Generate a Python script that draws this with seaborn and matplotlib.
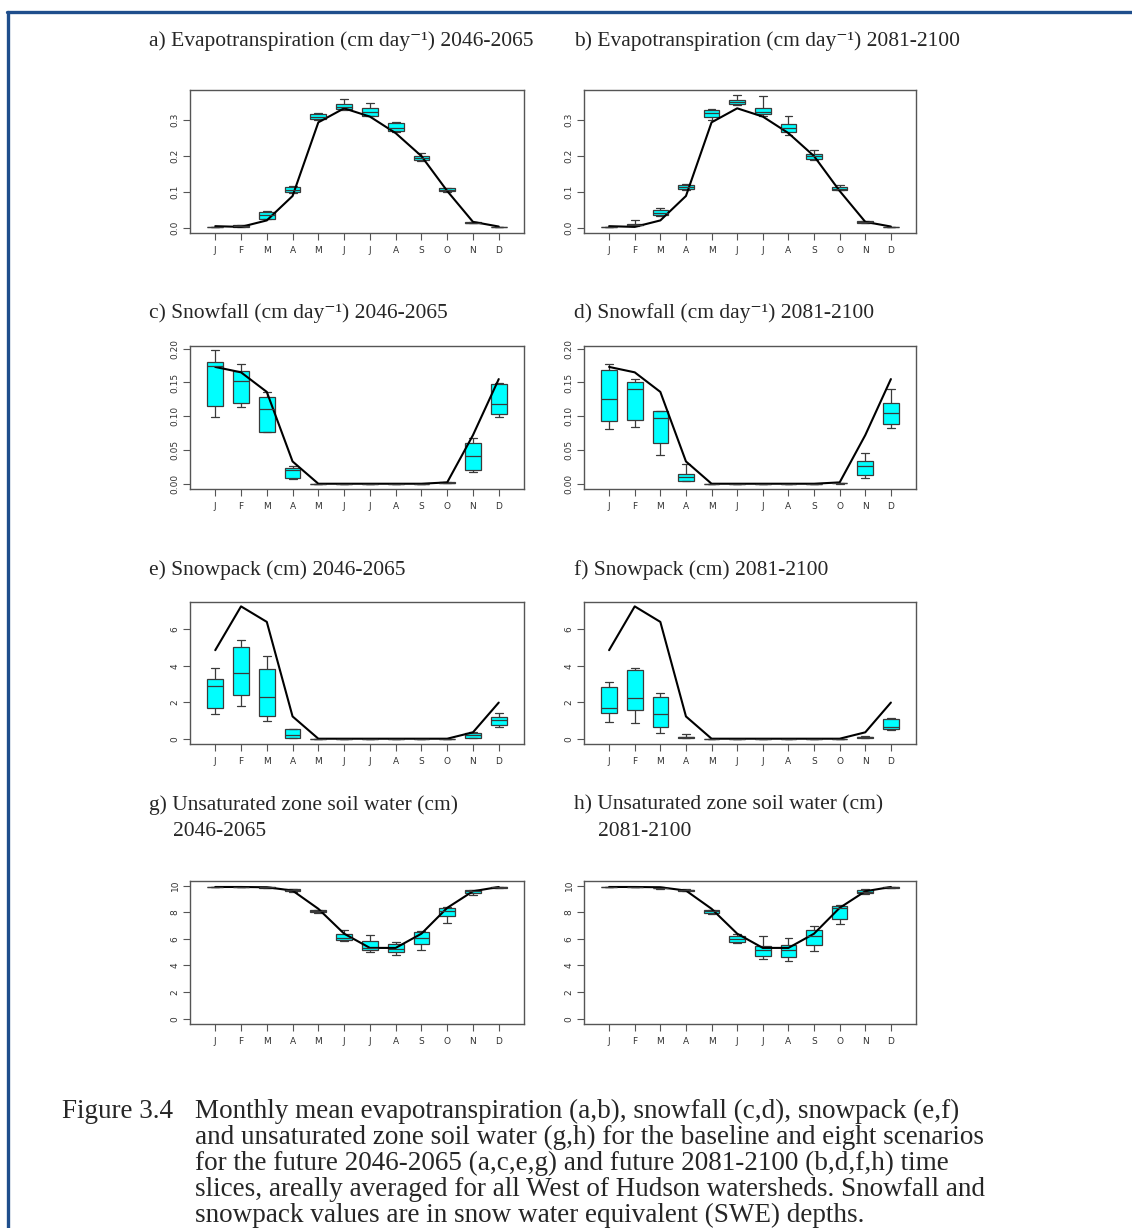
import numpy as np
import pandas as pd
import matplotlib
matplotlib.use("Agg")
import matplotlib.pyplot as plt
import seaborn as sns
from matplotlib.lines import Line2D

# ---------------- data ----------------
months = ["J", "F", "M", "A", "M", "J", "J", "A", "S", "O", "N", "D"]
month_num = [1, 2, 3, 4, 5, 6, 7, 8, 9, 10, 11, 12]

# baseline (black line)
et_base = [0.004, 0.002, 0.020, 0.088, 0.293, 0.332, 0.309, 0.263, 0.199, 0.102, 0.016, 0.003]
snowfall_base = [0.173, 0.165, 0.136, 0.033, 0.0, 0.0, 0.0, 0.0, 0.0, 0.002, 0.072, 0.155]
snowpack_base = [4.85, 7.25, 6.40, 1.22, 0.0, 0.0, 0.0, 0.0, 0.0, 0.0, 0.35, 1.98]
soil_base = [9.90, 9.90, 9.88, 9.63, 8.26, 6.39, 5.32, 5.32, 6.39, 8.33, 9.58, 9.90]

# scenario spread per month: [low whisker, q1, median, q3, high whisker]
et_2046 = [
    [0.001, 0.002, 0.002, 0.003, 0.003],
    [0.002, 0.003, 0.004, 0.006, 0.007],
    [0.024, 0.025, 0.034, 0.044, 0.046],
    [0.097, 0.099, 0.105, 0.113, 0.115],
    [0.300, 0.302, 0.308, 0.316, 0.318],
    [0.328, 0.330, 0.337, 0.344, 0.357],
    [0.310, 0.312, 0.322, 0.332, 0.348],
    [0.265, 0.268, 0.278, 0.291, 0.293],
    [0.185, 0.188, 0.195, 0.200, 0.208],
    [0.100, 0.102, 0.105, 0.109, 0.110],
    [0.012, 0.013, 0.014, 0.016, 0.016],
    [0.001, 0.001, 0.002, 0.002, 0.002],
]
et_2081 = [
    [0.001, 0.002, 0.002, 0.003, 0.003],
    [0.004, 0.006, 0.008, 0.011, 0.020],
    [0.033, 0.036, 0.041, 0.048, 0.055],
    [0.106, 0.108, 0.112, 0.119, 0.120],
    [0.300, 0.309, 0.318, 0.327, 0.330],
    [0.340, 0.343, 0.349, 0.355, 0.368],
    [0.312, 0.315, 0.322, 0.332, 0.365],
    [0.258, 0.266, 0.276, 0.289, 0.312],
    [0.188, 0.191, 0.199, 0.205, 0.215],
    [0.104, 0.105, 0.108, 0.113, 0.118],
    [0.013, 0.014, 0.016, 0.018, 0.019],
    [0.001, 0.001, 0.002, 0.002, 0.002],
]
snowfall_2046 = [
    [0.099, 0.115, 0.175, 0.180, 0.198],
    [0.114, 0.120, 0.152, 0.167, 0.177],
    [0.076, 0.076, 0.111, 0.128, 0.136],
    [0.007, 0.009, 0.021, 0.024, 0.026],
    [0.0, 0.0, 0.0, 0.0, 0.0],
    [0.0, 0.0, 0.0, 0.0, 0.0],
    [0.0, 0.0, 0.0, 0.0, 0.0],
    [0.0, 0.0, 0.0, 0.0, 0.0],
    [0.0, 0.0, 0.0, 0.0, 0.0],
    [0.0005, 0.001, 0.001, 0.002, 0.002],
    [0.017, 0.020, 0.041, 0.060, 0.068],
    [0.099, 0.103, 0.118, 0.147, 0.149],
]
snowfall_2081 = [
    [0.081, 0.093, 0.125, 0.169, 0.177],
    [0.084, 0.094, 0.140, 0.151, 0.155],
    [0.042, 0.061, 0.097, 0.108, 0.108],
    [0.004, 0.004, 0.010, 0.014, 0.029],
    [0.0, 0.0, 0.0, 0.0, 0.0],
    [0.0, 0.0, 0.0, 0.0, 0.0],
    [0.0, 0.0, 0.0, 0.0, 0.0],
    [0.0, 0.0, 0.0, 0.0, 0.0],
    [0.0, 0.0, 0.0, 0.0, 0.0],
    [0.0, 0.0005, 0.001, 0.001, 0.001],
    [0.009, 0.013, 0.027, 0.034, 0.046],
    [0.082, 0.088, 0.105, 0.120, 0.141],
]
snowpack_2046 = [
    [1.38, 1.69, 2.87, 3.25, 3.85],
    [1.80, 2.38, 3.60, 5.00, 5.40],
    [0.98, 1.22, 2.27, 3.82, 4.51],
    [0.04, 0.04, 0.20, 0.51, 0.53],
    [0.0, 0.0, 0.0, 0.0, 0.0],
    [0.0, 0.0, 0.0, 0.0, 0.0],
    [0.0, 0.0, 0.0, 0.0, 0.0],
    [0.0, 0.0, 0.0, 0.0, 0.0],
    [0.0, 0.0, 0.0, 0.0, 0.0],
    [0.0, 0.0, 0.0, 0.0, 0.0],
    [0.02, 0.04, 0.18, 0.29, 0.35],
    [0.65, 0.75, 1.04, 1.20, 1.40],
]
snowpack_2081 = [
    [0.91, 1.40, 1.67, 2.82, 3.09],
    [0.85, 1.56, 2.22, 3.75, 3.85],
    [0.31, 0.65, 1.36, 2.27, 2.53],
    [0.02, 0.04, 0.07, 0.11, 0.25],
    [0.0, 0.0, 0.0, 0.0, 0.0],
    [0.0, 0.0, 0.0, 0.0, 0.0],
    [0.0, 0.0, 0.0, 0.0, 0.0],
    [0.0, 0.0, 0.0, 0.0, 0.0],
    [0.0, 0.0, 0.0, 0.0, 0.0],
    [0.0, 0.0, 0.0, 0.0, 0.0],
    [0.02, 0.04, 0.08, 0.12, 0.15],
    [0.47, 0.51, 0.65, 1.09, 1.16],
]
soil_2046 = [
    [9.88, 9.89, 9.90, 9.91, 9.91],
    [9.88, 9.89, 9.90, 9.91, 9.91],
    [9.83, 9.85, 9.87, 9.89, 9.90],
    [9.55, 9.58, 9.65, 9.75, 9.76],
    [7.95, 8.00, 8.10, 8.18, 8.20],
    [5.85, 5.90, 6.09, 6.34, 6.64],
    [4.98, 5.15, 5.32, 5.87, 6.27],
    [4.75, 5.02, 5.27, 5.65, 5.77],
    [5.15, 5.65, 6.07, 6.49, 6.59],
    [7.21, 7.71, 8.11, 8.33, 8.38],
    [9.30, 9.43, 9.58, 9.68, 9.70],
    [9.84, 9.85, 9.87, 9.89, 9.90],
]
soil_2081 = [
    [9.88, 9.89, 9.90, 9.91, 9.91],
    [9.88, 9.89, 9.90, 9.91, 9.91],
    [9.78, 9.80, 9.83, 9.85, 9.87],
    [9.58, 9.60, 9.65, 9.70, 9.72],
    [7.90, 7.94, 8.06, 8.18, 8.20],
    [5.72, 5.77, 6.02, 6.22, 6.34],
    [4.48, 4.73, 5.15, 5.47, 6.24],
    [4.30, 4.65, 5.20, 5.55, 6.07],
    [5.07, 5.52, 6.24, 6.64, 6.94],
    [7.14, 7.46, 8.31, 8.50, 8.56],
    [9.35, 9.43, 9.55, 9.70, 9.72],
    [9.84, 9.85, 9.87, 9.89, 9.90],
]

titles = [
    ["a) Evapotranspiration (cm day\u207b\u00b9) 2046-2065"],
    ["b) Evapotranspiration (cm day\u207b\u00b9) 2081-2100"],
    ["c) Snowfall (cm day\u207b\u00b9) 2046-2065"],
    ["d) Snowfall (cm day\u207b\u00b9) 2081-2100"],
    ["e) Snowpack (cm) 2046-2065"],
    ["f) Snowpack (cm) 2081-2100"],
    ["g) Unsaturated zone soil water (cm)", "2046-2065"],
    ["h) Unsaturated zone soil water (cm)", "2081-2100"],
]
caption_label = "Figure 3.4"
caption_lines = [
    "Monthly mean evapotranspiration (a,b), snowfall (c,d), snowpack (e,f)",
    "and unsaturated zone soil water (g,h) for the baseline and eight scenarios",
    "for the future 2046-2065 (a,c,e,g) and future 2081-2100 (b,d,f,h) time",
    "slices, areally averaged for all West of Hudson watersheds. Snowfall and",
    "snowpack values are in snow water equivalent (SWE) depths.",
]

et_ticks = [0.0, 0.1, 0.2, 0.3]
et_ticklabels = ["0.0", "0.1", "0.2", "0.3"]
sf_ticks = [0.0, 0.05, 0.10, 0.15, 0.20]
sf_ticklabels = ["0.00", "0.05", "0.10", "0.15", "0.20"]
sp_ticks = [0, 2, 4, 6]
sp_ticklabels = ["0", "2", "4", "6"]
sw_ticks = [0, 2, 4, 6, 8, 10]
sw_ticklabels = ["0", "2", "4", "6", "8", "10"]

# ---------------- layout ----------------
W, H = 1132, 1228
sns.set_style("ticks")
serif = ["Liberation Serif", "DejaVu Serif"]

fig = plt.figure(figsize=(W / 100, H / 100), dpi=100)
fig.patch.set_facecolor("white")

col_x = [(190, 524), (584, 916)]
row_y = [(90, 233), (346, 489), (602, 744), (881, 1024)]
title_y = [41, 313, 570, None]

panels = [
    (et_2046, et_base, et_ticks, et_ticklabels, (-0.015, 0.383)),
    (et_2081, et_base, et_ticks, et_ticklabels, (-0.015, 0.383)),
    (snowfall_2046, snowfall_base, sf_ticks, sf_ticklabels, (-0.0078, 0.204)),
    (snowfall_2081, snowfall_base, sf_ticks, sf_ticklabels, (-0.0078, 0.204)),
    (snowpack_2046, snowpack_base, sp_ticks, sp_ticklabels, (-0.29, 7.49)),
    (snowpack_2081, snowpack_base, sp_ticks, sp_ticklabels, (-0.29, 7.49)),
    (soil_2046, soil_base, sw_ticks, sw_ticklabels, (-0.4, 10.35)),
    (soil_2081, soil_base, sw_ticks, sw_ticklabels, (-0.4, 10.35)),
]

edge = "#3a3a3a"
frame_col = "#555555"

for i, (summ, base, yt, ytl, ylim) in enumerate(panels):
    r, c = divmod(i, 2)
    x0, x1 = col_x[c]
    y0, y1 = row_y[r]
    ax = fig.add_axes([x0 / W, 1 - y1 / H, (x1 - x0) / W, (y1 - y0) / H])

    df = pd.DataFrame(
        [(m, v) for m, five in zip(month_num, summ) for v in five],
        columns=["month", "value"],
    )
    sns.boxplot(
        data=df, x="month", y="value", native_scale=True, whis=np.inf,
        width=0.61, color="#00FFFF", saturation=1, linecolor=edge,
        linewidth=0.9, fliersize=0, ax=ax,
    )
    sns.lineplot(x=month_num, y=base, color="black", linewidth=1.5, ax=ax)

    ax.set_xlim(0.02, 12.98)
    ax.set_ylim(*ylim)
    ax.set_xticks(month_num)
    ax.set_xticklabels(months)
    ax.set_yticks(yt)
    ax.set_yticklabels(ytl, rotation=90, va="center")
    ax.set_xlabel("")
    ax.set_ylabel("")
    for s in ax.spines.values():
        s.set_visible(True)
        s.set_color(frame_col)
        s.set_linewidth(1.0)
    ax.tick_params(axis="both", direction="out", length=5, width=0.8,
                   color=frame_col, labelsize=6.5, labelcolor="#333333")
    ax.tick_params(axis="y", pad=2.5)
    ax.tick_params(axis="x", pad=4.5)

    tx = 149 if c == 0 else 574
    lines = titles[i]
    if len(lines) == 1:
        fig.text(tx / W, 1 - title_y[r] / H, lines[0], ha="left", va="center",
                 fontsize=15.5, family=serif)
    else:
        fig.text(tx / W, 1 - 805 / H, lines[0], ha="left", va="center",
                 fontsize=15.5, family=serif)
        fig.text((tx + 24) / W, 1 - 831 / H, lines[1], ha="left", va="center",
                 fontsize=15.5, family=serif)

# caption (baseline-aligned)
cap_base0 = 1118
cap_dy = 26
cap_fs = 19.5
fig.text(62 / W, 1 - cap_base0 / H, caption_label, ha="left", va="baseline",
         fontsize=cap_fs, family=serif)
for k, line in enumerate(caption_lines):
    fig.text(195 / W, 1 - (cap_base0 + k * cap_dy) / H, line, ha="left",
             va="baseline", fontsize=cap_fs, family=serif)

# page frame
blue = "#1F4E8C"
fig.add_artist(Line2D([7 / W, 1.0], [1 - 12 / H, 1 - 12 / H], color=blue, lw=2.4,
                      transform=fig.transFigure))
fig.add_artist(Line2D([8 / W, 8 / W], [1 - 12 / H, 0.0], color=blue, lw=2.4,
                      transform=fig.transFigure))

fig.savefig("out.png", dpi=100, facecolor="white")
